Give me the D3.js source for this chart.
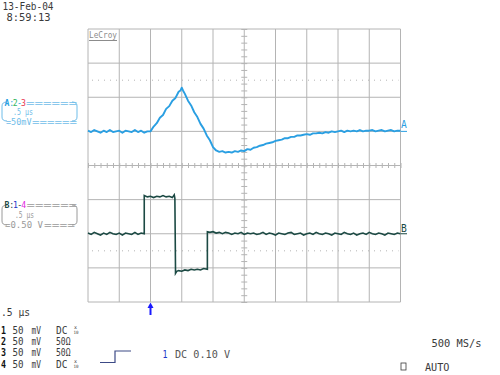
<!DOCTYPE html>
<html>
<head>
<meta charset="utf-8">
<script src="https://cdn.jsdelivr.net/npm/d3@7"></script>
<style>
body { margin: 0; background: #fff; }
text { font-family: "DejaVu Sans Mono", monospace; font-size: 9.6px; }
</style>
</head>
<body>
<div id="mainContainer"></div>
<script>
'use strict';

var svgWidth = 500,
    svgHeight = 375;

// time grid (us), 0.5 us/div, trigger at t = 0
var timeTicks = [-1, -0.5, 0, 0.5, 1, 1.5, 2, 2.5, 3, 3.5, 4];
// upper grid, trace A, 50 mV/div
var gridA = [150, 100, 50, 0, -50];
var refA = 75;
// lower grid, trace B, 0.50 V/div
var gridB = [0.5, 0, -0.5, -1];
var refB = -0.25;

// trace A: [time us, mV]
var traceA = [
    [-1.00, 1], [-0.95, -1], [-0.90, 2], [-0.85, 0], [-0.80, -2], [-0.75, 1], [-0.70, -1],
    [-0.65, 2], [-0.60, -1], [-0.55, 0], [-0.50, 1], [-0.45, -2], [-0.40, 1], [-0.35, 0],
    [-0.30, -1], [-0.25, 2], [-0.20, -1], [-0.15, 1], [-0.10, -2], [-0.05, 0], [0.00, 0],
    [0.05, 7], [0.10, 12], [0.15, 20], [0.20, 24], [0.25, 33], [0.30, 37], [0.35, 45],
    [0.40, 49], [0.45, 58], [0.48, 60], [0.50, 64], [0.52, 60],
    [0.55, 55], [0.60, 45], [0.65, 38], [0.70, 28], [0.75, 21], [0.80, 11], [0.85, 4],
    [0.90, -6], [0.95, -13], [1.00, -23], [1.05, -28],
    [1.10, -30], [1.15, -29], [1.20, -31], [1.25, -30], [1.30, -31], [1.35, -29], [1.40, -30],
    [1.45, -28], [1.50, -29], [1.55, -26], [1.60, -27], [1.65, -24], [1.70, -23], [1.75, -21],
    [1.80, -20], [1.85, -18], [1.90, -17], [1.95, -16], [2.00, -14], [2.05, -13], [2.10, -12],
    [2.15, -10], [2.20, -10], [2.25, -8], [2.30, -8], [2.35, -6], [2.40, -6], [2.45, -5],
    [2.50, -4], [2.55, -5], [2.60, -3], [2.65, -3], [2.70, -2], [2.75, -3], [2.80, -1],
    [2.85, -2], [2.90, 0], [2.95, -1], [3.00, 0], [3.05, 1], [3.10, -1], [3.15, 1], [3.20, 0],
    [3.25, 1], [3.30, 0], [3.35, 2], [3.40, 0], [3.45, 1], [3.50, 1], [3.55, 2], [3.60, 0],
    [3.65, 1], [3.70, 2], [3.75, 0], [3.80, 1], [3.85, 2], [3.90, 0], [3.95, 1], [4.00, 1]
];

// trace B: [time us, V]
var traceB = [
    [-1.00, 0.01], [-0.95, -0.01], [-0.90, 0.02], [-0.85, 0.00], [-0.80, -0.02], [-0.75, 0.01],
    [-0.70, -0.01], [-0.65, 0.02], [-0.60, 0.00], [-0.55, -0.01], [-0.50, 0.01], [-0.45, -0.02],
    [-0.40, 0.01], [-0.35, 0.00], [-0.30, -0.01], [-0.25, 0.02], [-0.20, -0.01], [-0.15, 0.01],
    [-0.10, 0.00],
    [-0.10, 0.56], [-0.05, 0.54], [0.00, 0.55], [0.05, 0.53], [0.10, 0.55], [0.15, 0.54],
    [0.20, 0.56], [0.25, 0.54], [0.30, 0.55], [0.35, 0.53], [0.38, 0.57], [0.39, 0.52],
    [0.40, -0.52], [0.40, -0.58], [0.42, -0.55], [0.45, -0.54], [0.50, -0.55], [0.55, -0.53],
    [0.60, -0.54], [0.65, -0.52], [0.70, -0.53], [0.75, -0.52], [0.80, -0.53], [0.85, -0.51],
    [0.91, -0.52],
    [0.91, 0.03], [0.95, 0.02], [1.00, 0.03], [1.05, 0.01], [1.10, 0.02], [1.15, 0.00],
    [1.20, 0.02], [1.25, 0.01], [1.30, -0.01], [1.35, 0.01], [1.40, 0.00], [1.45, 0.02],
    [1.50, -0.01], [1.55, 0.01], [1.60, 0.00], [1.65, 0.01], [1.70, -0.01], [1.75, 0.00],
    [1.80, 0.02], [1.85, -0.01], [1.90, 0.01], [1.95, 0.00], [2.00, -0.02], [2.05, 0.01],
    [2.10, 0.00], [2.15, -0.01], [2.20, 0.01], [2.25, 0.02], [2.30, -0.01], [2.35, 0.00],
    [2.40, 0.01], [2.45, -0.02], [2.50, 0.00], [2.55, 0.01], [2.60, -0.01], [2.65, 0.02],
    [2.70, 0.00], [2.75, -0.01], [2.80, 0.01], [2.85, 0.00], [2.90, -0.02], [2.95, 0.01],
    [3.00, 0.00], [3.05, -0.01], [3.10, 0.02], [3.15, 0.00], [3.20, -0.01], [3.25, 0.01],
    [3.30, -0.02], [3.35, 0.00], [3.40, 0.01], [3.45, -0.01], [3.50, 0.02], [3.55, 0.00],
    [3.60, -0.01], [3.65, 0.01], [3.70, 0.00], [3.75, -0.02], [3.80, 0.01], [3.85, 0.00],
    [3.90, -0.01], [3.95, 0.01], [4.00, 0.00]
];

var channelNames = ['1', '2', '3', '4'];
var channelScales = ['50', '50', '50', '50'];
var channelUnits = ['mV', 'mV', 'mV', 'mV'];
var channelCoupling = ['DC', '50\u03A9', '50\u03A9', 'DC'];

var colorA = '#2a9fe2',
    colorB = '#1c4a44',
    gridColor = '#b4b4b4',
    textColor = '#3a3a3a';

var plotLeft = 88, plotRight = 400.5, plotTop = 29, plotBottom = 302;

var x = d3.scaleLinear().domain([-1, 4]).range([plotLeft, plotRight]);
var yA = d3.scaleLinear().domain([-50, 150]).range([(plotTop + plotBottom) / 2, plotTop]);
var yB = d3.scaleLinear().domain([-1, 1]).range([plotBottom, (plotTop + plotBottom) / 2]);
var yDiv = d3.scaleLinear().domain([0, 8]).range([plotTop, plotBottom]);

var svg = d3.select('#mainContainer')
    .append('svg')
    .attr('width', svgWidth)
    .attr('height', svgHeight);

// grid
var grid = svg.append('g').attr('stroke', gridColor).attr('stroke-width', 1).attr('fill', 'none');

grid.selectAll('line.v')
    .data(timeTicks)
    .enter().append('line')
    .attr('x1', function (d) { return x(d); })
    .attr('x2', function (d) { return x(d); })
    .attr('y1', plotTop)
    .attr('y2', plotBottom);

grid.selectAll('line.ha')
    .data(gridA)
    .enter().append('line')
    .attr('x1', plotLeft).attr('x2', plotRight)
    .attr('y1', function (d) { return yA(d); })
    .attr('y2', function (d) { return yA(d); });

grid.selectAll('line.hb')
    .data(gridB)
    .enter().append('line')
    .attr('x1', plotLeft).attr('x2', plotRight)
    .attr('y1', function (d) { return yB(d); })
    .attr('y2', function (d) { return yB(d); });

// dotted reference lines
grid.append('line')
    .attr('x1', plotLeft + 4).attr('x2', plotRight - 2)
    .attr('y1', yA(refA)).attr('y2', yA(refA))
    .attr('stroke-dasharray', '1,5');
grid.append('line')
    .attr('x1', plotLeft + 4).attr('x2', plotRight - 2)
    .attr('y1', yB(refB)).attr('y2', yB(refB))
    .attr('stroke-dasharray', '1,5');

// minor ticks on the centre lines
var hAxis = d3.axisBottom(x)
    .tickValues(d3.range(-1, 4.001, 0.1))
    .tickSize(5)
    .tickFormat('');
svg.append('g')
    .attr('transform', 'translate(0,' + (yA(-50) - 2.5) + ')')
    .call(hAxis)
    .call(function (g) {
        g.select('.domain').remove();
        g.selectAll('line').attr('stroke', gridColor);
    });

var vAxis = d3.axisRight(yDiv)
    .tickValues(d3.range(0, 8.001, 0.2))
    .tickSize(6)
    .tickFormat('');
svg.append('g')
    .attr('transform', 'translate(' + (x(1.5) - 3) + ',0)')
    .call(vAxis)
    .call(function (g) {
        g.select('.domain').remove();
        g.selectAll('line').attr('stroke', gridColor);
    });

// LeCroy logo
svg.append('text')
    .attr('x', 89).attr('y', 38)
    .attr('fill', '#8c8c8c')
    .attr('textLength', 28).attr('lengthAdjust', 'spacingAndGlyphs')
    .style('font-size', '9px')
    .text('LeCroy');
svg.append('line')
    .attr('x1', 89).attr('x2', 117)
    .attr('y1', 40.5).attr('y2', 40.5)
    .attr('stroke', '#8c8c8c');

// traces
var lineA = d3.line()
    .x(function (d) { return x(d[0]); })
    .y(function (d) { return yA(d[1]); });
var lineB = d3.line()
    .x(function (d) { return x(d[0]); })
    .y(function (d) { return yB(d[1]); });

svg.append('path')
    .datum(traceA)
    .attr('d', lineA)
    .attr('fill', 'none')
    .attr('stroke', colorA)
    .attr('stroke-width', 1.9)
    .attr('stroke-linejoin', 'round');

svg.append('path')
    .datum(traceB)
    .attr('d', lineB)
    .attr('fill', 'none')
    .attr('stroke', colorB)
    .attr('stroke-width', 1.6);

// right-hand trace markers
svg.append('text').attr('x', 401).attr('y', 128).attr('fill', colorA).text('A');
svg.append('line').attr('x1', 401).attr('x2', 407)
    .attr('y1', yA(0)).attr('y2', yA(0)).attr('stroke', colorA);
svg.append('text').attr('x', 401).attr('y', 232).attr('fill', colorB).text('B');
svg.append('line').attr('x1', 401).attr('x2', 407)
    .attr('y1', yB(0)).attr('y2', yB(0)).attr('stroke', colorB);

// small helpers for placed text
function label(px, py, str, width, color, size) {
    var t = svg.append('text')
        .attr('x', px).attr('y', py)
        .attr('fill', color)
        .text(str);
    if (width) { t.attr('textLength', width).attr('lengthAdjust', 'spacingAndGlyphs'); }
    if (size) { t.style('font-size', size + 'px'); }
    return t;
}

// one text element made of coloured pieces: [text, x, colour, width, bold]
function richLine(py, parts) {
    var t = svg.append('text').attr('y', py).style('font-size', '8.2px');
    parts.forEach(function (p) {
        var s = t.append('tspan')
            .attr('x', p[1])
            .attr('fill', p[2])
            .text(p[0]);
        if (p[3]) { s.attr('textLength', p[3]).attr('lengthAdjust', 'spacingAndGlyphs'); }
        if (p[4]) { s.style('font-weight', 'bold'); }
    });
    return t;
}

// date / time
label(2.5, 10, '13-Feb-04', 51, textColor);
label(6.5, 20.5, '8:59:13', 44, textColor);

// trace A descriptor box
var boxA = '#6fbde9';
svg.append('path')
    .attr('d', 'M7,102 Q2,102 2,106 L2,117 Q2,121 7,121 M72,102 Q77,102 77,106 L77,117 Q77,121 72,121')
    .attr('fill', 'none').attr('stroke', boxA);
richLine(105.5, [
    ['A', 4.5, colorA, 0, true],
    [':', 9.3, colorA],
    ['2', 12.8, '#2fb45a'],
    ['-', 17, colorA],
    ['3', 21, '#e8344e'],
    ['======', 26, boxA, 51]
]);
richLine(115, [['.5 \u00B5s', 13, boxA, 20]]);
richLine(124.5, [['=50mV', 6, boxA, 25.5], ['======', 32, boxA, 45]]);

// trace B descriptor box
var boxB = '#9a9a9a';
svg.append('path')
    .attr('d', 'M7,205 Q2,205 2,209 L2,221 Q2,225 7,225 M72,205 Q77,205 77,209 L77,221 Q77,225 72,225')
    .attr('fill', 'none').attr('stroke', boxB);
richLine(208, [
    ['B', 4.5, colorB, 0, true],
    [':', 9.3, colorB],
    ['1', 13, '#2136c8'],
    ['-', 17.2, colorB],
    ['4', 21.2, '#e028e0'],
    ['======', 26.5, boxB, 50.5]
]);
richLine(218, [['.5 \u00B5s', 15, boxB, 19]]);
richLine(228, [['=0.50 V', 5, boxB, 38], ['====', 44, boxB, 31]]);

// bottom-left channel settings
label(1, 316, '.5 \u00B5s', 29, textColor);
var rowY = [333.5, 345, 356, 367.5];
channelNames.forEach(function (n, i) {
    var yy = rowY[i];
    label(1, yy, n, 5, '#111').style('font-weight', 'bold');
    label(12.5, yy, channelScales[i], 11, textColor);
    label(31.5, yy, channelUnits[i], 9.5, textColor);
    label(56, yy, channelCoupling[i], channelCoupling[i] === 'DC' ? 11.5 : 14.5, textColor);
    if (channelCoupling[i] === 'DC') {
        label(74, yy - 4.5, 'x', 3, textColor, 5);
        label(73.5, yy, '10', 5, textColor, 4.5);
    }
});

// trigger arrow
svg.append('line')
    .attr('x1', x(0)).attr('x2', x(0))
    .attr('y1', 305).attr('y2', 315)
    .attr('stroke', '#1a1aff').attr('stroke-width', 2);
svg.append('path')
    .attr('d', 'M' + (x(0) - 3) + ',308 L' + x(0) + ',302.5 L' + (x(0) + 3) + ',308 Z')
    .attr('fill', '#1a1aff');

// trigger symbol and setup
svg.append('path')
    .attr('d', 'M100,362.5 L115,362.5 L115,351 L131,351')
    .attr('fill', 'none')
    .attr('stroke', '#3c4a86')
    .attr('stroke-width', 1.2);
label(162.5, 357.5, '1', 5, '#2136c8');
label(175, 357.5, 'DC 0.10 V', 55, '#555');

// acquisition
label(431.5, 346.5, '500 MS/s', 50, textColor);
svg.append('rect')
    .attr('x', 401).attr('y', 363).attr('width', 5).attr('height', 7)
    .attr('fill', 'none').attr('stroke', textColor).attr('stroke-width', 0.8);
label(425, 371, 'AUTO', 24.5, textColor);
</script>
</body>
</html>
